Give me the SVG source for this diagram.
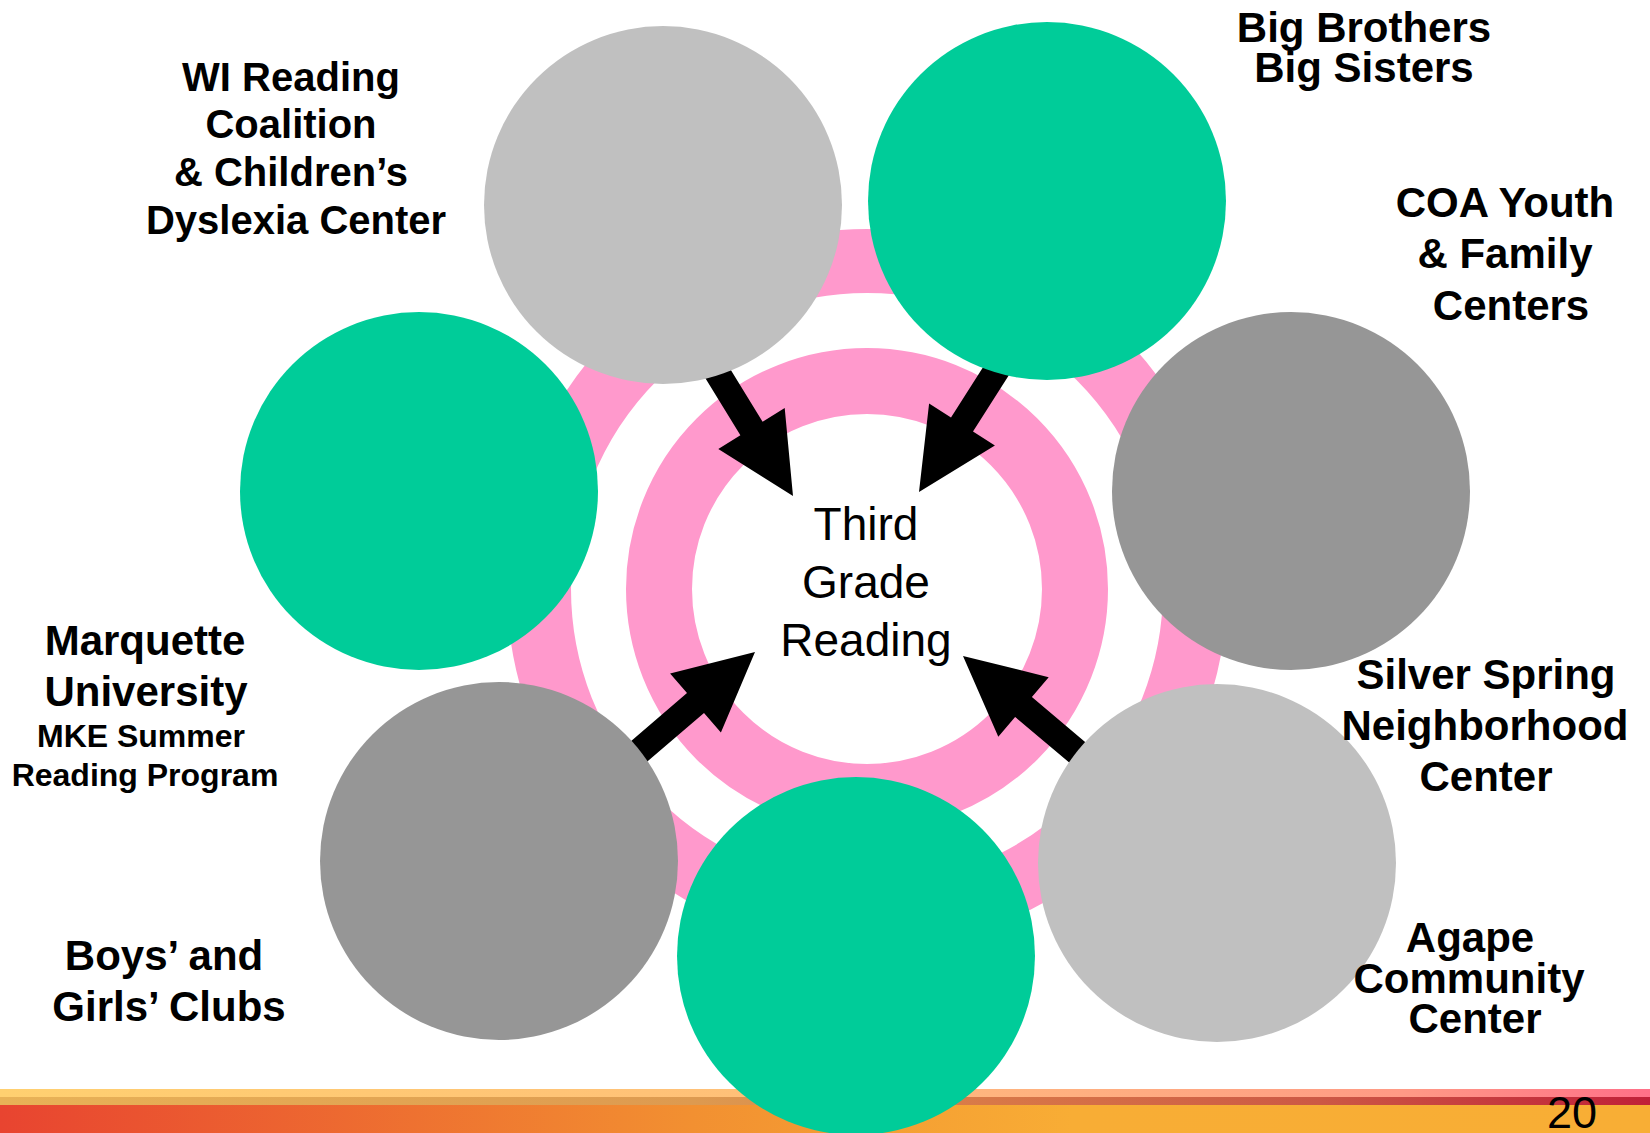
<svg xmlns="http://www.w3.org/2000/svg" width="1650" height="1133" viewBox="0 0 1650 1133">
  <defs>
    <linearGradient id="barMain" x1="0" y1="0" x2="1650" y2="0" gradientUnits="userSpaceOnUse">
      <stop offset="0" stop-color="#e84430"/>
      <stop offset="0.42" stop-color="#f29031"/>
      <stop offset="0.65" stop-color="#f8ad35"/>
      <stop offset="1" stop-color="#f8ae35"/>
    </linearGradient>
    <linearGradient id="barTop" x1="0" y1="0" x2="1650" y2="0" gradientUnits="userSpaceOnUse">
      <stop offset="0" stop-color="#ffd070"/>
      <stop offset="0.45" stop-color="#ffc078"/>
      <stop offset="0.65" stop-color="#ffb080"/>
      <stop offset="0.85" stop-color="#ff9a85"/>
      <stop offset="1" stop-color="#ff7088"/>
    </linearGradient>
    <linearGradient id="barMid" x1="0" y1="0" x2="1650" y2="0" gradientUnits="userSpaceOnUse">
      <stop offset="0" stop-color="#e8b257"/>
      <stop offset="0.42" stop-color="#dd9a50"/>
      <stop offset="0.6" stop-color="#d87848"/>
      <stop offset="0.8" stop-color="#cc5845"/>
      <stop offset="1" stop-color="#c02038"/>
    </linearGradient>
  </defs>
  <style>
    .ring { fill: none; stroke: #ff99cc; }
    .green { fill: #00cc99; }
    .lgrey { fill: #c0c0c0; }
    .dgrey { fill: #969696; }
    .arrow { fill: #000000; }
    .lbl { font-family: "Liberation Sans", Arial, sans-serif; font-weight: bold; font-size: 42px; fill: #000000; text-anchor: middle; }
    .lbl40 { font-size: 40px; }
    .lbl32 { font-size: 32px; }
    .center { font-family: "Liberation Sans", Arial, sans-serif; font-size: 46px; fill: #000000; text-anchor: middle; }
    .page { font-family: "Liberation Sans", Arial, sans-serif; font-size: 45px; fill: #000000; text-anchor: middle; }
  </style>
  <rect width="1650" height="1133" fill="#ffffff"/>

  <g id="footer-bar">
    <rect x="0" y="1089" width="1650" height="8" fill="url(#barTop)"/>
    <rect x="0" y="1097" width="1650" height="8" fill="url(#barMid)"/>
    <rect x="0" y="1105" width="1650" height="28" fill="url(#barMain)"/>
    <text class="page" x="1572" y="1128">20</text>
  </g>

  <g id="rings">
    <circle class="ring" cx="867" cy="589" r="328" stroke-width="64"/>
    <circle class="ring" cx="867" cy="589" r="208" stroke-width="66"/>
  </g>

  <g id="connectors">
    <polygon class="arrow" points="720.7,353.5 762.6,421.7 784.7,408.1 793,496 718.3,448.9 740.4,435.3 698.5,367.1"/>
    <polygon class="arrow" points="1016,364 973,431.5 994.9,445.5 919,492 929.1,403.5 951,417.5 994,350"/>
    <polygon class="arrow" points="631.9,774.7 704,712.9 720.9,732.6 755,652 670.1,673.4 687,693.1 614.9,754.9"/>
    <polygon class="arrow" points="1104.6,758.4 1031.9,697.1 1048.7,677.2 963,656 998.3,736.8 1015.1,716.9 1087.8,778.2"/>
  </g>

  <g id="node-wi-reading">
    <circle class="lgrey" cx="663" cy="205" r="179"/>
  </g>
  <g id="node-big-brothers">
    <circle class="green" cx="1047" cy="201" r="179"/>
  </g>
  <g id="node-coa">
    <circle class="dgrey" cx="1291" cy="491" r="179"/>
  </g>
  <g id="node-silver-spring">
    <circle class="lgrey" cx="1217" cy="863" r="179"/>
  </g>
  <g id="node-bottom">
    <circle class="green" cx="856" cy="956" r="179"/>
  </g>
  <g id="node-boys-girls">
    <circle class="dgrey" cx="499" cy="861" r="179"/>
  </g>
  <g id="node-marquette">
    <circle class="green" cx="419" cy="491" r="179"/>
  </g>

  <g id="center-node">
    <text class="center" x="866" y="540">Third</text>
    <text class="center" x="866" y="598">Grade</text>
    <text class="center" x="866" y="656">Reading</text>
  </g>

  <g id="labels">
    <g id="label-wi">
      <text class="lbl lbl40" x="291" y="91">WI Reading</text>
      <text class="lbl lbl40" x="291" y="138">Coalition</text>
      <text class="lbl lbl40" x="291" y="186">&amp; Children’s</text>
      <text class="lbl lbl40" x="296" y="234">Dyslexia Center</text>
    </g>
    <g id="label-bbbs">
      <text class="lbl" x="1364" y="42">Big Brothers</text>
      <text class="lbl" x="1364" y="82">Big Sisters</text>
    </g>
    <g id="label-coa">
      <text class="lbl" x="1505" y="217">COA Youth</text>
      <text class="lbl" x="1505" y="268">&amp; Family</text>
      <text class="lbl" x="1511" y="320">Centers</text>
    </g>
    <g id="label-silver">
      <text class="lbl" x="1486" y="689">Silver Spring</text>
      <text class="lbl" x="1485" y="740">Neighborhood</text>
      <text class="lbl" x="1486" y="791">Center</text>
    </g>
    <g id="label-agape">
      <text class="lbl" x="1470" y="952">Agape</text>
      <text class="lbl" x="1469" y="993">Community</text>
      <text class="lbl" x="1475" y="1033">Center</text>
    </g>
    <g id="label-marquette">
      <text class="lbl" x="145" y="655">Marquette</text>
      <text class="lbl" x="146" y="706">University</text>
      <text class="lbl lbl32" x="141" y="747">MKE Summer</text>
      <text class="lbl lbl32" x="145" y="786">Reading Program</text>
    </g>
    <g id="label-boys">
      <text class="lbl" x="164" y="970">Boys’ and</text>
      <text class="lbl" x="169" y="1021">Girls’ Clubs</text>
    </g>
  </g>
</svg>
